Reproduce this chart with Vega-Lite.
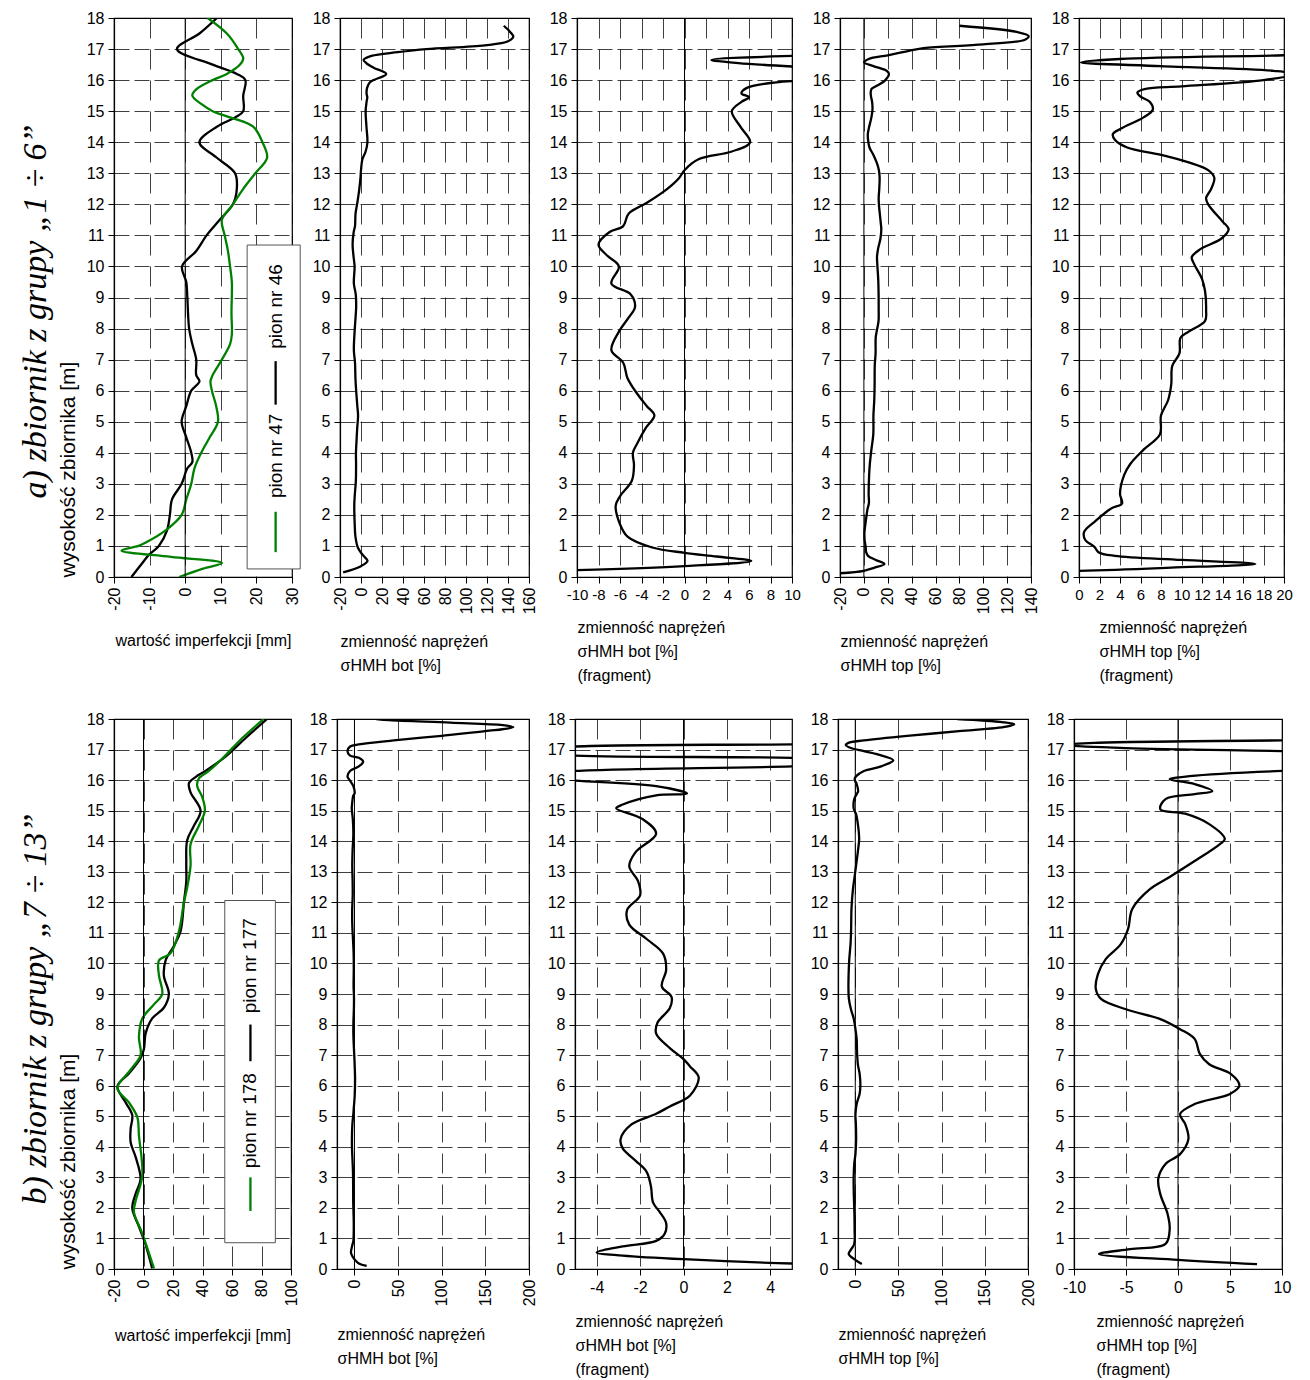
{
"$schema": "https://vega.github.io/schema/vega-lite/v6.json",
"background": "white",
"padding": {"left": 18, "top": 9, "right": 10, "bottom": 10},
"spacing": 26,
"datasets": {
"imp_a": [
{"pion":"pion nr 46","h":0,"v":-15.1},{"pion":"pion nr 46","h":0.5,"v":-11.7},{"pion":"pion nr 46","h":0.7,"v":-10.3},{"pion":"pion nr 46","h":1,"v":-7.4},{"pion":"pion nr 46","h":1.5,"v":-5.1},{"pion":"pion nr 46","h":2,"v":-4.3},{"pion":"pion nr 46","h":2.5,"v":-3.7},{"pion":"pion nr 46","h":3,"v":-1},{"pion":"pion nr 46","h":3.5,"v":0.6},{"pion":"pion nr 46","h":3.7,"v":2},{"pion":"pion nr 46","h":4,"v":1.7},{"pion":"pion nr 46","h":4.5,"v":0.3},{"pion":"pion nr 46","h":5,"v":-1},{"pion":"pion nr 46","h":5.5,"v":0.3},{"pion":"pion nr 46","h":6,"v":1.7},{"pion":"pion nr 46","h":6.3,"v":4},{"pion":"pion nr 46","h":6.5,"v":3.1},{"pion":"pion nr 46","h":7,"v":3.1},{"pion":"pion nr 46","h":7.5,"v":2},{"pion":"pion nr 46","h":8,"v":1.1},{"pion":"pion nr 46","h":9,"v":0.6},{"pion":"pion nr 46","h":9.5,"v":0.3},{"pion":"pion nr 46","h":10,"v":-0.9},{"pion":"pion nr 46","h":10.5,"v":3.1},{"pion":"pion nr 46","h":11,"v":6},{"pion":"pion nr 46","h":11.5,"v":9.7},{"pion":"pion nr 46","h":12,"v":13.4},{"pion":"pion nr 46","h":12.5,"v":14.5},{"pion":"pion nr 46","h":13,"v":14},{"pion":"pion nr 46","h":13.5,"v":8.9},{"pion":"pion nr 46","h":14,"v":4},{"pion":"pion nr 46","h":14.5,"v":8.9},{"pion":"pion nr 46","h":14.8,"v":14},{"pion":"pion nr 46","h":15,"v":16.3},{"pion":"pion nr 46","h":15.5,"v":16.3},{"pion":"pion nr 46","h":16,"v":16.9},{"pion":"pion nr 46","h":16.2,"v":14.5},{"pion":"pion nr 46","h":16.5,"v":7.7},{"pion":"pion nr 46","h":17,"v":-2.3},{"pion":"pion nr 46","h":17.5,"v":4},{"pion":"pion nr 46","h":18,"v":8.9},
{"pion":"pion nr 47","h":0,"v":-1.7},{"pion":"pion nr 47","h":0.27,"v":5},{"pion":"pion nr 47","h":0.45,"v":10.3},{"pion":"pion nr 47","h":0.65,"v":-4},{"pion":"pion nr 47","h":0.85,"v":-17.9},{"pion":"pion nr 47","h":1,"v":-13.1},{"pion":"pion nr 47","h":1.1,"v":-11.2},{"pion":"pion nr 47","h":1.5,"v":-5.5},{"pion":"pion nr 47","h":2,"v":-1},{"pion":"pion nr 47","h":2.5,"v":0.3},{"pion":"pion nr 47","h":3,"v":1.7},{"pion":"pion nr 47","h":3.5,"v":2.6},{"pion":"pion nr 47","h":4,"v":4.5},{"pion":"pion nr 47","h":4.5,"v":6.9},{"pion":"pion nr 47","h":5,"v":9.2},{"pion":"pion nr 47","h":5.5,"v":8.7},{"pion":"pion nr 47","h":6,"v":7.5},{"pion":"pion nr 47","h":6.3,"v":7.1},{"pion":"pion nr 47","h":6.5,"v":7.7},{"pion":"pion nr 47","h":7,"v":10.3},{"pion":"pion nr 47","h":7.5,"v":12.6},{"pion":"pion nr 47","h":7.8,"v":13.1},{"pion":"pion nr 47","h":8.5,"v":13},{"pion":"pion nr 47","h":9.5,"v":13.1},{"pion":"pion nr 47","h":10,"v":12.6},{"pion":"pion nr 47","h":10.5,"v":12},{"pion":"pion nr 47","h":11,"v":11.1},{"pion":"pion nr 47","h":11.5,"v":10.3},{"pion":"pion nr 47","h":12,"v":13.4},{"pion":"pion nr 47","h":12.5,"v":16.3},{"pion":"pion nr 47","h":13,"v":19.7},{"pion":"pion nr 47","h":13.5,"v":23},{"pion":"pion nr 47","h":14,"v":21.7},{"pion":"pion nr 47","h":14.5,"v":19.1},{"pion":"pion nr 47","h":14.8,"v":12.6},{"pion":"pion nr 47","h":15,"v":7.7},{"pion":"pion nr 47","h":15.2,"v":4.9},{"pion":"pion nr 47","h":15.5,"v":2},{"pion":"pion nr 47","h":15.7,"v":3.1},{"pion":"pion nr 47","h":16,"v":7.7},{"pion":"pion nr 47","h":16.2,"v":11.7},{"pion":"pion nr 47","h":16.5,"v":15.4},{"pion":"pion nr 47","h":16.7,"v":16.3},{"pion":"pion nr 47","h":17,"v":14.9},{"pion":"pion nr 47","h":17.5,"v":11.7},{"pion":"pion nr 47","h":18,"v":6.3}
],
"bot_a": [
{"h":0.15,"v":-17},{"h":0.35,"v":0},{"h":0.52,"v":6.2},{"h":0.66,"v":3},{"h":0.78,"v":0},{"h":0.95,"v":-3},{"h":1.3,"v":-5.3},{"h":1.7,"v":-6},{"h":2.3,"v":-6.4},{"h":2.6,"v":-6},{"h":3.1,"v":-4.9},{"h":3.6,"v":-4.7},{"h":4,"v":-4.8},{"h":4.3,"v":-4.4},{"h":4.8,"v":-3.6},{"h":5.2,"v":-2.8},{"h":5.5,"v":-3.5},{"h":5.9,"v":-4.4},{"h":6.4,"v":-5.3},{"h":6.9,"v":-5.7},{"h":7.3,"v":-6.8},{"h":7.9,"v":-6.1},{"h":8.35,"v":-5.2},{"h":8.7,"v":-4.6},{"h":9.1,"v":-5},{"h":9.45,"v":-6.8},{"h":10,"v":-6.1},{"h":10.35,"v":-7.2},{"h":10.7,"v":-8},{"h":11.1,"v":-7},{"h":11.3,"v":-5.7},{"h":11.7,"v":-5.2},{"h":12.05,"v":-3.5},{"h":12.5,"v":-1.6},{"h":12.85,"v":-0.5},{"h":13.1,"v":0},{"h":13.45,"v":1.3},{"h":13.7,"v":4.4},{"h":14,"v":6.1},{"h":14.5,"v":5.2},{"h":15,"v":4.4},{"h":15.3,"v":5.3},{"h":15.45,"v":6},{"h":15.57,"v":5.3},{"h":15.75,"v":5.8},{"h":15.93,"v":8.5},{"h":16,"v":12},{"h":16.2,"v":24},{"h":16.4,"v":12},{"h":16.55,"v":5},{"h":16.65,"v":2.5},{"h":16.78,"v":10},{"h":16.9,"v":35},{"h":17,"v":62},{"h":17.12,"v":118},{"h":17.25,"v":140},{"h":17.4,"v":145},{"h":17.55,"v":142},{"h":17.75,"v":136}
],
"top_a": [
{"h":0.12,"v":-20},{"h":0.2,"v":0},{"h":0.3,"v":9},{"h":0.42,"v":17.2},{"h":0.55,"v":10},{"h":0.68,"v":3.5},{"h":0.8,"v":1.9},{"h":0.97,"v":1.5},{"h":1.2,"v":0.6},{"h":1.45,"v":0.5},{"h":1.8,"v":1.6},{"h":2.2,"v":3.1},{"h":2.37,"v":4.2},{"h":2.67,"v":4},{"h":3.28,"v":4.4},{"h":3.64,"v":5},{"h":4.1,"v":6.3},{"h":4.6,"v":7.9},{"h":5.2,"v":8},{"h":5.7,"v":8.7},{"h":6.2,"v":9},{"h":6.8,"v":9.1},{"h":7.2,"v":9.8},{"h":7.7,"v":9.9},{"h":7.9,"v":10.7},{"h":8.25,"v":12.3},{"h":8.6,"v":12.4},{"h":9.2,"v":12.3},{"h":9.6,"v":12},{"h":10.1,"v":11.2},{"h":10.3,"v":11},{"h":10.55,"v":11.8},{"h":10.9,"v":13.9},{"h":11.2,"v":14.6},{"h":11.45,"v":14},{"h":12,"v":12.6},{"h":12.2,"v":12.4},{"h":12.5,"v":12.9},{"h":12.86,"v":13.2},{"h":13.1,"v":12.6},{"h":13.35,"v":10.7},{"h":13.6,"v":7.9},{"h":13.83,"v":4.7},{"h":14.08,"v":3.5},{"h":14.26,"v":3.3},{"h":14.44,"v":4.1},{"h":14.8,"v":6.3},{"h":15.05,"v":7.2},{"h":15.3,"v":6.9},{"h":15.47,"v":6},{"h":15.6,"v":5.7},{"h":15.72,"v":6.5},{"h":15.8,"v":10},{"h":16,"v":18},{"h":16.2,"v":21},{"h":16.3,"v":19},{"h":16.45,"v":8},{"h":16.57,"v":0.2},{"h":16.68,"v":4},{"h":16.8,"v":20},{"h":16.92,"v":35},{"h":17.03,"v":50},{"h":17.15,"v":100},{"h":17.3,"v":135},{"h":17.42,"v":138},{"h":17.55,"v":128},{"h":17.75,"v":80}
],
"imp_b": [
{"pion":"pion nr 177","h":0.02,"v":5.9},{"pion":"pion nr 177","h":0.8,"v":1.4},{"pion":"pion nr 177","h":1.39,"v":-3.1},{"pion":"pion nr 177","h":1.99,"v":-7.6},{"pion":"pion nr 177","h":2.47,"v":-5.3},{"pion":"pion nr 177","h":2.94,"v":-2},{"pion":"pion nr 177","h":3.66,"v":-5.3},{"pion":"pion nr 177","h":4.14,"v":-8.7},{"pion":"pion nr 177","h":4.6,"v":-8.7},{"pion":"pion nr 177","h":5.03,"v":-7.6},{"pion":"pion nr 177","h":5.45,"v":-12.1},{"pion":"pion nr 177","h":5.98,"v":-17.7},{"pion":"pion nr 177","h":6.4,"v":-9.9},{"pion":"pion nr 177","h":6.9,"v":-2},{"pion":"pion nr 177","h":7.2,"v":0.3},{"pion":"pion nr 177","h":7.7,"v":1.4},{"pion":"pion nr 177","h":8.2,"v":5.9},{"pion":"pion nr 177","h":8.55,"v":13.8},{"pion":"pion nr 177","h":9,"v":17.2},{"pion":"pion nr 177","h":9.6,"v":13.8},{"pion":"pion nr 177","h":10.1,"v":15},{"pion":"pion nr 177","h":10.57,"v":20.6},{"pion":"pion nr 177","h":11.05,"v":25.1},{"pion":"pion nr 177","h":12,"v":27.4},{"pion":"pion nr 177","h":12.7,"v":29},{"pion":"pion nr 177","h":13.3,"v":29},{"pion":"pion nr 177","h":14.03,"v":29.6},{"pion":"pion nr 177","h":14.5,"v":34.1},{"pion":"pion nr 177","h":15,"v":38.7},{"pion":"pion nr 177","h":15.6,"v":31.9},{"pion":"pion nr 177","h":15.9,"v":30.8},{"pion":"pion nr 177","h":16.1,"v":35.3},{"pion":"pion nr 177","h":16.3,"v":42},{"pion":"pion nr 177","h":16.77,"v":55.6},{"pion":"pion nr 177","h":17.37,"v":69.1},{"pion":"pion nr 177","h":18,"v":83.8},
{"pion":"pion nr 178","h":0.02,"v":7.1},{"pion":"pion nr 178","h":1.16,"v":-0.8},{"pion":"pion nr 178","h":1.87,"v":-6.5},{"pion":"pion nr 178","h":2.23,"v":-5.3},{"pion":"pion nr 178","h":3.06,"v":-0.8},{"pion":"pion nr 178","h":4.37,"v":-3.1},{"pion":"pion nr 178","h":4.97,"v":-4.2},{"pion":"pion nr 178","h":5.45,"v":-9.9},{"pion":"pion nr 178","h":5.92,"v":-17.7},{"pion":"pion nr 178","h":6.52,"v":-8.7},{"pion":"pion nr 178","h":7,"v":-2},{"pion":"pion nr 178","h":7.6,"v":-3.1},{"pion":"pion nr 178","h":8.2,"v":-0.8},{"pion":"pion nr 178","h":8.66,"v":7.1},{"pion":"pion nr 178","h":9,"v":12.7},{"pion":"pion nr 178","h":9.6,"v":10.5},{"pion":"pion nr 178","h":10.1,"v":10.5},{"pion":"pion nr 178","h":10.33,"v":18.3},{"pion":"pion nr 178","h":11.05,"v":24},{"pion":"pion nr 178","h":12,"v":27.4},{"pion":"pion nr 178","h":12.48,"v":29.6},{"pion":"pion nr 178","h":13.2,"v":31.9},{"pion":"pion nr 178","h":13.9,"v":31.9},{"pion":"pion nr 178","h":14.5,"v":37.5},{"pion":"pion nr 178","h":15,"v":41.6},{"pion":"pion nr 178","h":15.45,"v":39.8},{"pion":"pion nr 178","h":15.8,"v":36.4},{"pion":"pion nr 178","h":16.05,"v":37.5},{"pion":"pion nr 178","h":16.3,"v":44.3},{"pion":"pion nr 178","h":16.7,"v":53.3},{"pion":"pion nr 178","h":17.37,"v":66.8},{"pion":"pion nr 178","h":18,"v":81.5}
],
"bot_b": [
{"h":0.1,"v":14},{"h":0.18,"v":5},{"h":0.32,"v":0},{"h":0.44,"v":-2.8},{"h":0.54,"v":-4},{"h":0.74,"v":-2.8},{"h":0.92,"v":-1.26},{"h":1.15,"v":-0.87},{"h":1.5,"v":-0.8},{"h":1.87,"v":-1.1},{"h":2.17,"v":-1.4},{"h":2.7,"v":-1.5},{"h":3.18,"v":-1.7},{"h":3.54,"v":-2.2},{"h":3.95,"v":-2.8},{"h":4.25,"v":-2.9},{"h":4.73,"v":-2.4},{"h":5.08,"v":-1.26},{"h":5.32,"v":-0.63},{"h":5.68,"v":0.3},{"h":6.27,"v":0.7},{"h":6.63,"v":0.3},{"h":6.87,"v":0},{"h":7.23,"v":-0.63},{"h":7.7,"v":-1.26},{"h":8.06,"v":-1.2},{"h":8.54,"v":-0.63},{"h":8.9,"v":-0.55},{"h":9.25,"v":-1},{"h":9.79,"v":-0.8},{"h":10.32,"v":-0.94},{"h":10.8,"v":-1.7},{"h":11.27,"v":-2.5},{"h":11.75,"v":-2.6},{"h":12.23,"v":-2},{"h":12.7,"v":-2.1},{"h":13.18,"v":-2.5},{"h":13.65,"v":-2.2},{"h":14.25,"v":-1.26},{"h":14.73,"v":-1.9},{"h":15.08,"v":-3.1},{"h":15.2,"v":-2.8},{"h":15.5,"v":-1.26},{"h":15.56,"v":0.16},{"h":15.8,"v":-1.26},{"h":15.98,"v":-5},{"h":16.12,"v":-8},{"h":16.3,"v":-5},{"h":16.45,"v":5},{"h":16.6,"v":10},{"h":16.73,"v":5},{"h":16.8,"v":-5},{"h":16.95,"v":-8},{"h":17.1,"v":-5},{"h":17.17,"v":5},{"h":17.3,"v":45},{"h":17.45,"v":100},{"h":17.6,"v":150},{"h":17.73,"v":182},{"h":17.8,"v":170},{"h":17.88,"v":110},{"h":17.96,"v":40},{"h":18,"v":25}
],
"top_b": [
{"h":0.16,"v":7.6},{"h":0.3,"v":0},{"h":0.49,"v":-7.6},{"h":0.65,"v":-4.6},{"h":0.82,"v":-1.2},{"h":1.3,"v":-0.8},{"h":1.8,"v":-1},{"h":2.45,"v":-1.7},{"h":2.95,"v":-1.9},{"h":3.44,"v":-1.2},{"h":3.76,"v":0.2},{"h":4.25,"v":1},{"h":4.74,"v":0.7},{"h":5.07,"v":0.2},{"h":5.4,"v":1.6},{"h":5.73,"v":5},{"h":6,"v":5.9},{"h":6.38,"v":5.1},{"h":6.7,"v":3},{"h":7.04,"v":2.1},{"h":7.53,"v":1.6},{"h":7.85,"v":0.2},{"h":8.18,"v":-1.7},{"h":8.5,"v":-5},{"h":8.84,"v":-7.4},{"h":9.16,"v":-7.9},{"h":9.65,"v":-7.7},{"h":10.14,"v":-6.95},{"h":10.63,"v":-5.5},{"h":11.13,"v":-4.8},{"h":11.78,"v":-4.4},{"h":12.43,"v":-2.7},{"h":12.83,"v":-0.8},{"h":13.35,"v":1.6},{"h":13.9,"v":4},{"h":14.07,"v":4.5},{"h":14.56,"v":3},{"h":14.9,"v":0.7},{"h":15.05,"v":-1.7},{"h":15.38,"v":-1.2},{"h":15.54,"v":1.6},{"h":15.64,"v":3.3},{"h":15.87,"v":1.6},{"h":16.03,"v":-0.8},{"h":16.13,"v":1.1},{"h":16.3,"v":10},{"h":16.45,"v":30},{"h":16.65,"v":44},{"h":16.85,"v":25},{"h":16.95,"v":10},{"h":17.05,"v":-5},{"h":17.15,"v":-11},{"h":17.22,"v":-8},{"h":17.3,"v":10},{"h":17.45,"v":60},{"h":17.6,"v":120},{"h":17.75,"v":175},{"h":17.83,"v":184},{"h":17.9,"v":170},{"h":18,"v":118}
]
},
"vconcat": [
{
"bounds": "flush",
"spacing": 48,
"title": {"text": "a) zbiornik z grupy „1 ÷ 6”", "orient": "left", "anchor": "middle", "font": "Liberation Serif", "fontStyle": "italic", "fontWeight": "normal", "fontSize": 34, "color": "#000", "offset": 4, "dx": 35},
"hconcat": [
{"width": 178, "height": 559, "layer": [
 {"data": {"name": "imp_a"}, "mark": {"type": "line", "interpolate": "catmull-rom", "clip": true, "strokeWidth": 2.3},
  "encoding": {
   "x": {"field": "v", "type": "quantitative", "scale": {"domain": [-20, 30], "nice": false, "zero": false}, "axis": {"values": [-20,-10,0,10,20,30], "labelAngle": 270, "title": "wartość imperfekcji [mm]", "titlePadding": 22}},
   "y": {"field": "h", "type": "quantitative", "scale": {"domain": [0, 18], "nice": false, "zero": false}, "axis": {"values": [0,1,2,3,4,5,6,7,8,9,10,11,12,13,14,15,16,17,18], "title": "wysokość zbiornika [m]", "titleFontSize": 21, "titlePadding": 8, "titleAnchor": "start"}},
   "color": {"field": "pion", "type": "nominal", "scale": {"domain": ["pion nr 46","pion nr 47","pion nr 177","pion nr 178"], "range": ["#000000","#008000","#000000","#008000"]}, "legend": null},
   "order": {"field": "h", "type": "quantitative"}}},
 {"data": {"values": [{}]}, "mark": {"type": "rule", "color": "#000", "strokeWidth": 1}, "encoding": {"x": {"datum": 0, "axis": {"values": [-20,-10,0,10,20,30], "labelAngle": 270, "title": "wartość imperfekcji [mm]", "titlePadding": 22}}}},
 {"data": {"values": [{}]}, "mark": {"type": "rect", "fill": "white", "stroke": "#555", "strokeWidth": 1}, "encoding": {"x": {"datum": 17.4, "axis": {"values": [-20,-10,0,10,20,30], "labelAngle": 270, "title": "wartość imperfekcji [mm]", "titlePadding": 22}}, "x2": {"datum": 32.3}, "y": {"datum": 0.26, "axis": {"values": [0,1,2,3,4,5,6,7,8,9,10,11,12,13,14,15,16,17,18], "title": "wysokość zbiornika [m]", "titleFontSize": 21, "titlePadding": 8, "titleAnchor": "start"}}, "y2": {"datum": 10.69}}},
 {"data": {"values": [{}]}, "mark": {"type": "rule", "color": "#008000", "strokeWidth": 2.3}, "encoding": {"x": {"datum": 25.4, "axis": {"values": [-20,-10,0,10,20,30], "labelAngle": 270, "title": "wartość imperfekcji [mm]", "titlePadding": 22}}, "y": {"datum": 0.8, "axis": {"values": [0,1,2,3,4,5,6,7,8,9,10,11,12,13,14,15,16,17,18], "title": "wysokość zbiornika [m]", "titleFontSize": 21, "titlePadding": 8, "titleAnchor": "start"}}, "y2": {"datum": 2.1}}},
 {"data": {"values": [{}]}, "mark": {"type": "text", "text": "pion nr 47", "angle": 270, "align": "left", "baseline": "middle", "fontSize": 19, "font": "Liberation Sans", "color": "#000"}, "encoding": {"x": {"datum": 25.4, "axis": {"values": [-20,-10,0,10,20,30], "labelAngle": 270, "title": "wartość imperfekcji [mm]", "titlePadding": 22}}, "y": {"datum": 2.54, "axis": {"values": [0,1,2,3,4,5,6,7,8,9,10,11,12,13,14,15,16,17,18], "title": "wysokość zbiornika [m]", "titleFontSize": 21, "titlePadding": 8, "titleAnchor": "start"}}}},
 {"data": {"values": [{}]}, "mark": {"type": "rule", "color": "#000", "strokeWidth": 2.3}, "encoding": {"x": {"datum": 25.4, "axis": {"values": [-20,-10,0,10,20,30], "labelAngle": 270, "title": "wartość imperfekcji [mm]", "titlePadding": 22}}, "y": {"datum": 5.55, "axis": {"values": [0,1,2,3,4,5,6,7,8,9,10,11,12,13,14,15,16,17,18], "title": "wysokość zbiornika [m]", "titleFontSize": 21, "titlePadding": 8, "titleAnchor": "start"}}, "y2": {"datum": 6.95}}},
 {"data": {"values": [{}]}, "mark": {"type": "text", "text": "pion nr 46", "angle": 270, "align": "left", "baseline": "middle", "fontSize": 19, "font": "Liberation Sans", "color": "#000"}, "encoding": {"x": {"datum": 25.4, "axis": {"values": [-20,-10,0,10,20,30], "labelAngle": 270, "title": "wartość imperfekcji [mm]", "titlePadding": 22}}, "y": {"datum": 7.35, "axis": {"values": [0,1,2,3,4,5,6,7,8,9,10,11,12,13,14,15,16,17,18], "title": "wysokość zbiornika [m]", "titleFontSize": 21, "titlePadding": 8, "titleAnchor": "start"}}}}
]},
{"width": 189, "height": 559, "layer": [
 {"data": {"name": "bot_a"}, "mark": {"type": "line", "interpolate": "catmull-rom", "clip": true, "color": "#000", "strokeWidth": 2.3},
  "encoding": {
   "x": {"field": "v", "type": "quantitative", "scale": {"domain": [-20, 160], "nice": false, "zero": false}, "axis": {"values": [-20,0,20,40,60,80,100,120,140,160], "labelAngle": 270, "labelOverlap": false, "title": ["zmienność naprężeń", "σHMH bot [%]"], "titleAnchor": "start", "titlePadding": 20}},
   "y": {"field": "h", "type": "quantitative", "scale": {"domain": [0, 18], "nice": false, "zero": false}, "axis": {"values": [0,1,2,3,4,5,6,7,8,9,10,11,12,13,14,15,16,17,18], "title": null}},
   "order": {"field": "h", "type": "quantitative"}}}
]},
{"width": 215, "height": 559, "layer": [
 {"data": {"name": "bot_a"}, "mark": {"type": "line", "interpolate": "catmull-rom", "clip": true, "color": "#000", "strokeWidth": 2.3},
  "encoding": {
   "x": {"field": "v", "type": "quantitative", "scale": {"domain": [-10, 10], "nice": false, "zero": false}, "axis": {"values": [-10,-8,-6,-4,-2,0,2,4,6,8,10], "labelAngle": 0, "labelFontSize": 15, "labelOverlap": false, "title": ["zmienność naprężeń", "σHMH bot [%]", "(fragment)"], "titleAnchor": "start", "titlePadding": 17}},
   "y": {"field": "h", "type": "quantitative", "scale": {"domain": [0, 18], "nice": false, "zero": false}, "axis": {"values": [0,1,2,3,4,5,6,7,8,9,10,11,12,13,14,15,16,17,18], "title": null}},
   "order": {"field": "h", "type": "quantitative"}}},
 {"data": {"values": [{}]}, "mark": {"type": "rule", "color": "#000", "strokeWidth": 1}, "encoding": {"x": {"datum": 0, "axis": {"values": [-10,-8,-6,-4,-2,0,2,4,6,8,10], "labelAngle": 0, "labelFontSize": 15, "labelOverlap": false, "title": ["zmienność naprężeń", "σHMH bot [%]", "(fragment)"], "titleAnchor": "start", "titlePadding": 17}}}}
]},
{"width": 191, "height": 559, "layer": [
 {"data": {"name": "top_a"}, "mark": {"type": "line", "interpolate": "catmull-rom", "clip": true, "color": "#000", "strokeWidth": 2.3},
  "encoding": {
   "x": {"field": "v", "type": "quantitative", "scale": {"domain": [-20, 140], "nice": false, "zero": false}, "axis": {"values": [-20,0,20,40,60,80,100,120,140], "labelAngle": 270, "labelOverlap": false, "title": ["zmienność naprężeń", "σHMH top [%]"], "titleAnchor": "start", "titlePadding": 20}},
   "y": {"field": "h", "type": "quantitative", "scale": {"domain": [0, 18], "nice": false, "zero": false}, "axis": {"values": [0,1,2,3,4,5,6,7,8,9,10,11,12,13,14,15,16,17,18], "title": null}},
   "order": {"field": "h", "type": "quantitative"}}},
 {"data": {"values": [{}]}, "mark": {"type": "rule", "color": "#000", "strokeWidth": 1}, "encoding": {"x": {"datum": 0, "axis": {"values": [-20,0,20,40,60,80,100,120,140], "labelAngle": 270, "labelOverlap": false, "title": ["zmienność naprężeń", "σHMH top [%]"], "titleAnchor": "start", "titlePadding": 20}}}}
]},
{"width": 205, "height": 559, "layer": [
 {"data": {"name": "top_a"}, "mark": {"type": "line", "interpolate": "catmull-rom", "clip": true, "color": "#000", "strokeWidth": 2.3},
  "encoding": {
   "x": {"field": "v", "type": "quantitative", "scale": {"domain": [0, 20], "nice": false, "zero": false}, "axis": {"values": [0,2,4,6,8,10,12,14,16,18,20], "labelAngle": 0, "labelFontSize": 15, "labelOverlap": false, "title": ["zmienność naprężeń", "σHMH top [%]", "(fragment)"], "titleAnchor": "start", "titleX": 20, "titleAlign": "left", "titlePadding": 17}},
   "y": {"field": "h", "type": "quantitative", "scale": {"domain": [0, 18], "nice": false, "zero": false}, "axis": {"values": [0,1,2,3,4,5,6,7,8,9,10,11,12,13,14,15,16,17,18], "title": null}},
   "order": {"field": "h", "type": "quantitative"}}}
]}
]
},
{
"bounds": "flush",
"spacing": 46,
"title": {"text": "b) zbiornik z grupy „7 ÷ 13”", "orient": "left", "anchor": "middle", "font": "Liberation Serif", "fontStyle": "italic", "fontWeight": "normal", "fontSize": 34, "color": "#000", "offset": 4, "dx": 35},
"hconcat": [
{"width": 177, "height": 550, "layer": [
 {"data": {"name": "imp_b"}, "mark": {"type": "line", "interpolate": "catmull-rom", "clip": true, "strokeWidth": 2.3},
  "encoding": {
   "x": {"field": "v", "type": "quantitative", "scale": {"domain": [-20, 100], "nice": false, "zero": false}, "axis": {"values": [-20,0,20,40,60,80,100], "labelAngle": 270, "title": "wartość imperfekcji [mm]", "titlePadding": 22}},
   "y": {"field": "h", "type": "quantitative", "scale": {"domain": [0, 18], "nice": false, "zero": false}, "axis": {"values": [0,1,2,3,4,5,6,7,8,9,10,11,12,13,14,15,16,17,18], "title": "wysokość zbiornika [m]", "titleFontSize": 21, "titlePadding": 8, "titleAnchor": "start"}},
   "color": {"field": "pion", "type": "nominal", "scale": {"domain": ["pion nr 46","pion nr 47","pion nr 177","pion nr 178"], "range": ["#000000","#008000","#000000","#008000"]}, "legend": null},
   "order": {"field": "h", "type": "quantitative"}}},
 {"data": {"values": [{}]}, "mark": {"type": "rule", "color": "#000", "strokeWidth": 1}, "encoding": {"x": {"datum": 0, "axis": {"values": [-20,0,20,40,60,80,100], "labelAngle": 270, "title": "wartość imperfekcji [mm]", "titlePadding": 22}}}},
 {"data": {"values": [{}]}, "mark": {"type": "rect", "fill": "white", "stroke": "#555", "strokeWidth": 1}, "encoding": {"x": {"datum": 55.1, "axis": {"values": [-20,0,20,40,60,80,100], "labelAngle": 270, "title": "wartość imperfekcji [mm]", "titlePadding": 22}}, "x2": {"datum": 89.4}, "y": {"datum": 0.86, "axis": {"values": [0,1,2,3,4,5,6,7,8,9,10,11,12,13,14,15,16,17,18], "title": "wysokość zbiornika [m]", "titleFontSize": 21, "titlePadding": 8, "titleAnchor": "start"}}, "y2": {"datum": 12.06}}},
 {"data": {"values": [{}]}, "mark": {"type": "rule", "color": "#008000", "strokeWidth": 2.3}, "encoding": {"x": {"datum": 72.5, "axis": {"values": [-20,0,20,40,60,80,100], "labelAngle": 270, "title": "wartość imperfekcji [mm]", "titlePadding": 22}}, "y": {"datum": 1.9, "axis": {"values": [0,1,2,3,4,5,6,7,8,9,10,11,12,13,14,15,16,17,18], "title": "wysokość zbiornika [m]", "titleFontSize": 21, "titlePadding": 8, "titleAnchor": "start"}}, "y2": {"datum": 3.0}}},
 {"data": {"values": [{}]}, "mark": {"type": "text", "text": "pion nr 178", "angle": 270, "align": "left", "baseline": "middle", "fontSize": 19, "font": "Liberation Sans", "color": "#000"}, "encoding": {"x": {"datum": 72.5, "axis": {"values": [-20,0,20,40,60,80,100], "labelAngle": 270, "title": "wartość imperfekcji [mm]", "titlePadding": 22}}, "y": {"datum": 3.3, "axis": {"values": [0,1,2,3,4,5,6,7,8,9,10,11,12,13,14,15,16,17,18], "title": "wysokość zbiornika [m]", "titleFontSize": 21, "titlePadding": 8, "titleAnchor": "start"}}}},
 {"data": {"values": [{}]}, "mark": {"type": "rule", "color": "#000", "strokeWidth": 2.3}, "encoding": {"x": {"datum": 72.5, "axis": {"values": [-20,0,20,40,60,80,100], "labelAngle": 270, "title": "wartość imperfekcji [mm]", "titlePadding": 22}}, "y": {"datum": 6.8, "axis": {"values": [0,1,2,3,4,5,6,7,8,9,10,11,12,13,14,15,16,17,18], "title": "wysokość zbiornika [m]", "titleFontSize": 21, "titlePadding": 8, "titleAnchor": "start"}}, "y2": {"datum": 8.0}}},
 {"data": {"values": [{}]}, "mark": {"type": "text", "text": "pion nr 177", "angle": 270, "align": "left", "baseline": "middle", "fontSize": 19, "font": "Liberation Sans", "color": "#000"}, "encoding": {"x": {"datum": 72.5, "axis": {"values": [-20,0,20,40,60,80,100], "labelAngle": 270, "title": "wartość imperfekcji [mm]", "titlePadding": 22}}, "y": {"datum": 8.37, "axis": {"values": [0,1,2,3,4,5,6,7,8,9,10,11,12,13,14,15,16,17,18], "title": "wysokość zbiornika [m]", "titleFontSize": 21, "titlePadding": 8, "titleAnchor": "start"}}}}
]},
{"width": 192, "height": 550, "layer": [
 {"data": {"name": "bot_b"}, "mark": {"type": "line", "interpolate": "catmull-rom", "clip": true, "color": "#000", "strokeWidth": 2.3},
  "encoding": {
   "x": {"field": "v", "type": "quantitative", "scale": {"domain": [-20, 200], "nice": false, "zero": false}, "axis": {"values": [0,50,100,150,200], "labelAngle": 270, "title": ["zmienność naprężeń", "σHMH bot [%]"], "titleAnchor": "start", "titlePadding": 21}},
   "y": {"field": "h", "type": "quantitative", "scale": {"domain": [0, 18], "nice": false, "zero": false}, "axis": {"values": [0,1,2,3,4,5,6,7,8,9,10,11,12,13,14,15,16,17,18], "title": null}},
   "order": {"field": "h", "type": "quantitative"}}},
 {"data": {"values": [{}]}, "mark": {"type": "rule", "color": "#000", "strokeWidth": 1}, "encoding": {"x": {"datum": 0}}}
]},
{"width": 217, "height": 550, "layer": [
 {"data": {"name": "bot_b"}, "mark": {"type": "line", "interpolate": "catmull-rom", "clip": true, "color": "#000", "strokeWidth": 2.3},
  "encoding": {
   "x": {"field": "v", "type": "quantitative", "scale": {"domain": [-5, 5], "nice": false, "zero": false}, "axis": {"values": [-4,-2,0,2,4], "labelAngle": 0, "title": ["zmienność naprężeń", "σHMH bot [%]", "(fragment)"], "titleAnchor": "start", "titlePadding": 18}},
   "y": {"field": "h", "type": "quantitative", "scale": {"domain": [0, 18], "nice": false, "zero": false}, "axis": {"values": [0,1,2,3,4,5,6,7,8,9,10,11,12,13,14,15,16,17,18], "title": null}},
   "order": {"field": "h", "type": "quantitative"}}},
 {"data": {"values": [{}]}, "mark": {"type": "rule", "color": "#000", "strokeWidth": 1}, "encoding": {"x": {"datum": 0}}}
]},
{"width": 190, "height": 550, "layer": [
 {"data": {"name": "top_b"}, "mark": {"type": "line", "interpolate": "catmull-rom", "clip": true, "color": "#000", "strokeWidth": 2.3},
  "encoding": {
   "x": {"field": "v", "type": "quantitative", "scale": {"domain": [-20, 200], "nice": false, "zero": false}, "axis": {"values": [0,50,100,150,200], "labelAngle": 270, "title": ["zmienność naprężeń", "σHMH top [%]"], "titleAnchor": "start", "titlePadding": 21}},
   "y": {"field": "h", "type": "quantitative", "scale": {"domain": [0, 18], "nice": false, "zero": false}, "axis": {"values": [0,1,2,3,4,5,6,7,8,9,10,11,12,13,14,15,16,17,18], "title": null}},
   "order": {"field": "h", "type": "quantitative"}}},
 {"data": {"values": [{}]}, "mark": {"type": "rule", "color": "#000", "strokeWidth": 1}, "encoding": {"x": {"datum": 0}}}
]},
{"width": 208, "height": 550, "layer": [
 {"data": {"name": "top_b"}, "mark": {"type": "line", "interpolate": "catmull-rom", "clip": true, "color": "#000", "strokeWidth": 2.3},
  "encoding": {
   "x": {"field": "v", "type": "quantitative", "scale": {"domain": [-10, 10], "nice": false, "zero": false}, "axis": {"values": [-10,-5,0,5,10], "labelAngle": 0, "title": ["zmienność naprężeń", "σHMH top [%]", "(fragment)"], "titleAnchor": "start", "titleX": 22, "titleAlign": "left", "titlePadding": 18}},
   "y": {"field": "h", "type": "quantitative", "scale": {"domain": [0, 18], "nice": false, "zero": false}, "axis": {"values": [0,1,2,3,4,5,6,7,8,9,10,11,12,13,14,15,16,17,18], "title": null}},
   "order": {"field": "h", "type": "quantitative"}}},
 {"data": {"values": [{}]}, "mark": {"type": "rule", "color": "#000", "strokeWidth": 1}, "encoding": {"x": {"datum": 0}}}
]}
]
}
],
"config": {
 "font": "Liberation Sans",
 "view": {"stroke": "#000", "strokeWidth": 1.2},
 "axis": {"domainColor": "#000", "domainWidth": 1.2, "tickColor": "#000", "tickSize": 6, "labelColor": "#000", "labelFontSize": 16, "labelFont": "Liberation Sans", "titleFont": "Liberation Sans", "titleFontSize": 16, "titleFontWeight": "normal", "titleColor": "#000", "titleLineHeight": 24, "gridColor": "#000", "gridWidth": 1, "gridOpacity": 0.75, "labelOverlap": false, "labelFlush": false, "labelBound": false, "labelExpr": "replace(datum.label, '−', '-')"},
 "axisX": {"gridDash": [20, 11], "labelPadding": 4},
 "axisY": {"gridDash": [15, 5], "labelPadding": 4}
}
}
